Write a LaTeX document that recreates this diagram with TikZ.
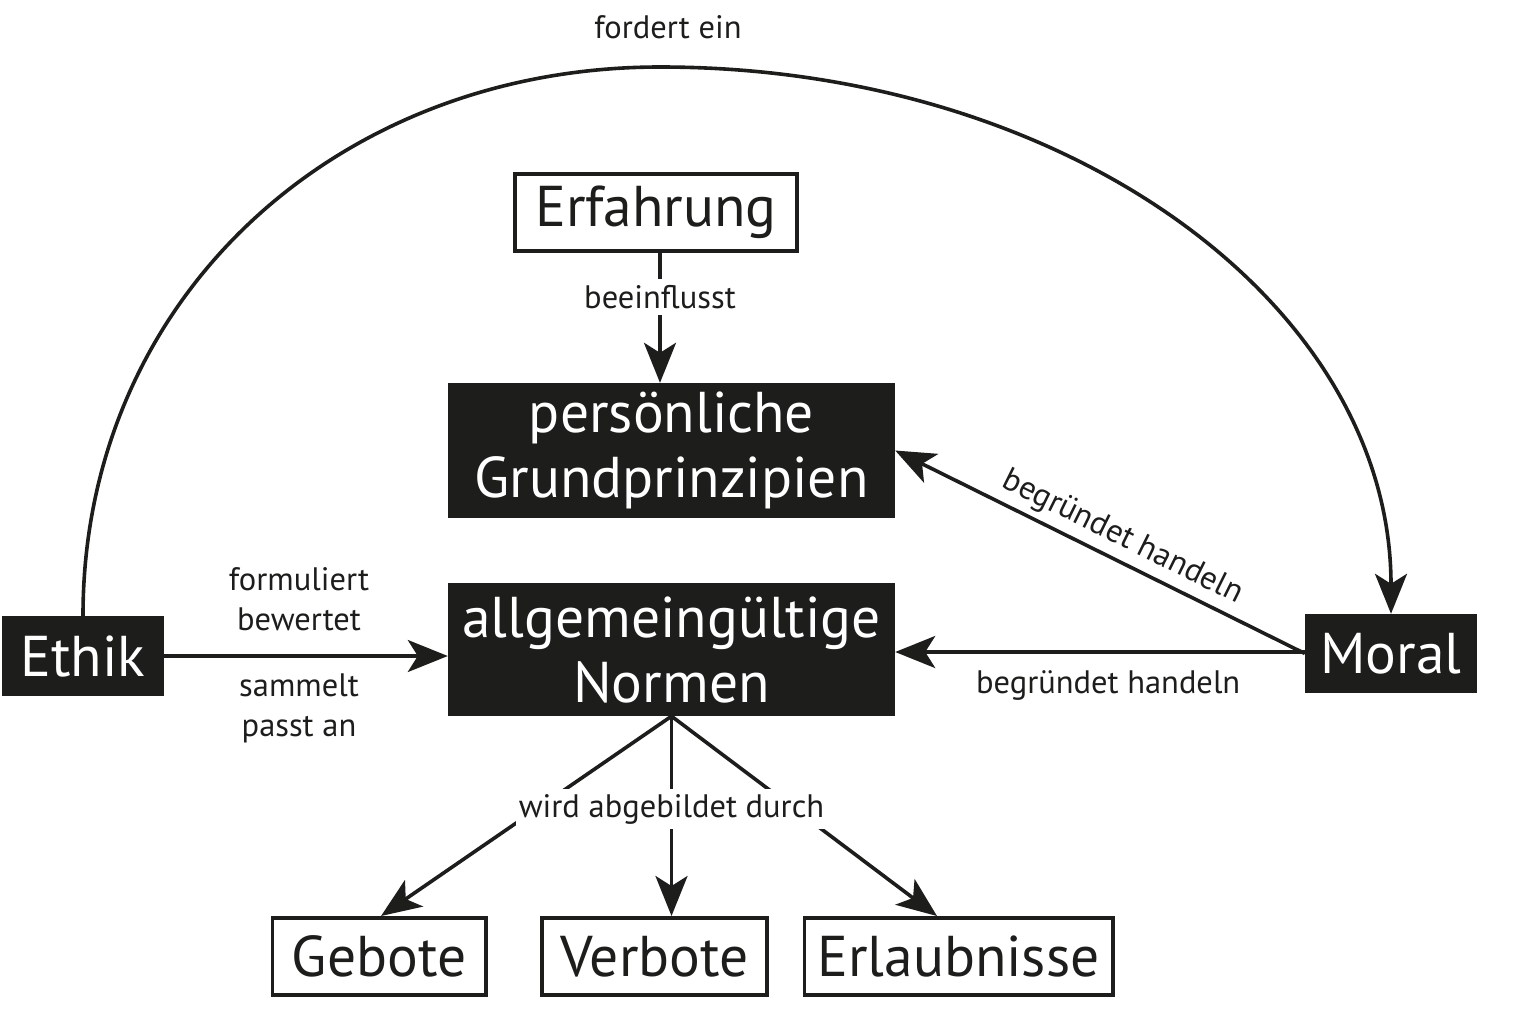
\documentclass[tikz,border=0pt]{standalone}
\usepackage{fontspec}
\setmainfont{PT Sans}
\usetikzlibrary{arrows.meta,calc}
\definecolor{dk}{HTML}{1D1D1B}
\newcommand{\bigtxt}{\fontsize{57.5}{65}\selectfont}
\newcommand{\smalltxt}{\fontsize{32.5}{40}\selectfont}
\tikzset{
  blk/.style={fill=dk, text=white, inner sep=0pt, font=\bigtxt, align=center},
  wht/.style={draw=dk, line width=3.6pt, fill=white, text=dk, inner sep=0pt, font=\bigtxt},
  conn/.style={draw=dk, line width=3.6pt, -{Stealth[length=40pt,width=32pt,inset=10pt]}},
  connrev/.style={draw=dk, line width=3.6pt, {Stealth[length=40pt,width=32pt,inset=10pt]}-},
  lbl/.style={font=\smalltxt, text=dk, align=center, inner sep=2pt}
}
\begin{document}
\begin{tikzpicture}[x=1pt,y=-1pt]
\useasboundingbox (0,0) rectangle (1522,1023);
% boxes
\node[wht, minimum width=282.4pt, minimum height=77.4pt] (erf) at (656,212.5) {Erfahrung};
\node[blk, minimum width=447pt, minimum height=135pt] (pers) at (671.5,450.5) {persönliche\\Grundprinzipien};
\node[blk, minimum width=447pt, minimum height=133pt] (norm) at (671.5,649.5) {allgemeingültige\\Normen};
\node[blk, minimum width=162pt, minimum height=80pt] (ethik) at (83,656) {Ethik};
\node[blk, minimum width=172pt, minimum height=79pt] (moral) at (1391,653.5) {Moral};
\node[wht, minimum width=213.4pt, minimum height=77.4pt] (geb) at (379,956.5) {Gebote};
\node[wht, minimum width=225.4pt, minimum height=77.4pt] (verb) at (654.5,956.5) {Verbote};
\node[wht, minimum width=308.4pt, minimum height=77.4pt] (erl) at (958.5,956.5) {Erlaubnisse};
% top arc
\coordinate (top) at (660,67);
\draw[conn] (ethik.north) .. controls (83,300) and (335,67) .. (top)
  .. controls (1068,67) and (1391,305) .. (moral.north);
\node[lbl, anchor=center] (fordert) at (668,27) {fordert ein};
% Erfahrung -> persoenliche
\draw[conn] ([xshift=4pt]erf.south) -- ([xshift=4pt]erf.south |- pers.north)
  node[lbl, pos=0.34, fill=white, inner xsep=2pt, inner ysep=6pt] {beeinflusst};
% Ethik -> Normen
\draw[conn] (ethik.east) -- (ethik.east -| norm.west);
\node[lbl] (lab1) at (299,599) {formuliert\\bewertet};
\node[lbl] (lab2) at (299,708) {sammelt\\passt an};
% Moral -> persoenliche
\draw[connrev] (pers.east) -- (moral.west)
  node[lbl, pos=0.53, sloped, above=4pt] {begründet handeln};
% Moral -> Normen
\draw[conn] ([yshift=1.5pt]moral.west) -- ([yshift=1.5pt]moral.west -| norm.east)
  node[lbl, pos=0.48, below=15pt] {begründet handeln};
% fan
\draw[conn] (norm.south) -- ([xshift=2pt]geb.north);
\draw[conn] (norm.south) -- (norm.south |- verb.north);
\draw[conn] (norm.south) -- ([xshift=-21.5pt]erl.north);
\node[lbl, fill=white, inner xsep=3pt, inner ysep=5pt] (wird) at ($(norm.south)!0.465!(norm.south |- verb.north)$) {wird abgebildet durch};
\end{tikzpicture}
\end{document}
